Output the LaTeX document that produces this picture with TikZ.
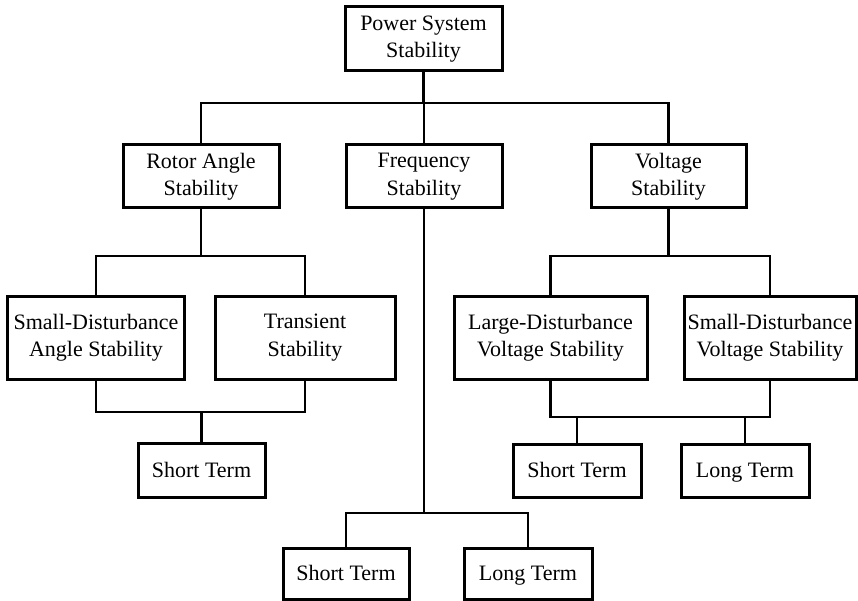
\documentclass[tikz,border=0pt]{standalone}
\usepackage{fontspec}
\setmainfont{Liberation Serif}
\begin{document}
\begin{tikzpicture}[x=1pt,y=-1pt,
  box/.style={draw=black,line width=3pt,inner sep=0pt,align=center,
    font=\fontsize{22}{27.5}\selectfont},
  oneline/.style={text height=18.8pt,text depth=4pt},
  link/.style={draw=black,line width=2.8pt}]
\useasboundingbox (0,0) rectangle (858,601);
% level 0
\node[box,minimum width=157pt,minimum height=64pt] (pss) at (423.5,39) {Power System\\Stability};
% level 1
\node[box,minimum width=156pt,minimum height=63pt] (ras) at (201,176.5) {Rotor Angle\\Stability};
\node[box,minimum width=156pt,minimum height=63pt] (fs) at (424,176.5) {Frequency\\Stability};
\node[box,minimum width=155pt,minimum height=63pt] (vs) at (668.5,176.5) {Voltage\\Stability};
% level 2
\node[box,minimum width=177pt,minimum height=83pt] (sda) at (96,337.5) {Small-Disturbance\\Angle Stability};
\node[box,minimum width=180pt,minimum height=83pt] (ts) at (305,337.5) {Transient\\Stability};
\node[box,minimum width=193pt,minimum height=83pt] (lsv) at (550.5,337.5) {Large-Disturbance\\Voltage Stability};
\node[box,minimum width=172pt,minimum height=83pt] (sdv) at (770,337.5) {Small-Disturbance\\Voltage Stability};
% level 3
\node[box,oneline,minimum width=127pt,minimum height=54pt] (st1) at (201.5,470) {Short Term};
\node[box,oneline,minimum width=128pt,minimum height=53pt] (st2) at (577,470.5) {Short Term};
\node[box,oneline,minimum width=128pt,minimum height=53pt] (lt2) at (745,470.5) {Long Term};
% level 4
\node[box,oneline,minimum width=126pt,minimum height=51pt] (st3) at (346,573.5) {Short Term};
\node[box,oneline,minimum width=128pt,minimum height=51pt] (lt3) at (528,573.5) {Long Term};
% buses
\coordinate (b0) at (0,103);
\coordinate (b1) at (0,256);
\coordinate (b2) at (0,412);
\coordinate (b3) at (0,513);
\coordinate (b4) at (0,417);
% top
\draw[link] (pss.south) -- (pss.south |- b0);
\draw[link] (ras.north) -- (ras.north |- b0) -- (vs.north |- b0) -- (vs.north);
\draw[link] (fs.north) -- (fs.north |- b0);
% rotor angle
\draw[link] (ras.south) -- (ras.south |- b1);
\draw[link] (sda.north) -- (sda.north |- b1) -- (ts.north |- b1) -- (ts.north);
\draw[link] (sda.south) -- (sda.south |- b2) -- (ts.south |- b2) -- (ts.south);
\draw[link] (st1.north) -- (st1.north |- b2);
% frequency
\draw[link] (fs.south) -- (fs.south |- b3);
\draw[link] (st3.north) -- (st3.north |- b3) -- (lt3.north |- b3) -- (lt3.north);
% voltage
\draw[link] (vs.south) -- (vs.south |- b1);
\draw[link] (lsv.north) -- (lsv.north |- b1) -- (sdv.north |- b1) -- (sdv.north);
\draw[link] (lsv.south) -- (lsv.south |- b4) -- (sdv.south |- b4) -- (sdv.south);
\draw[link] (st2.north) -- (st2.north |- b4);
\draw[link] (lt2.north) -- (lt2.north |- b4);
\end{tikzpicture}
\end{document}
